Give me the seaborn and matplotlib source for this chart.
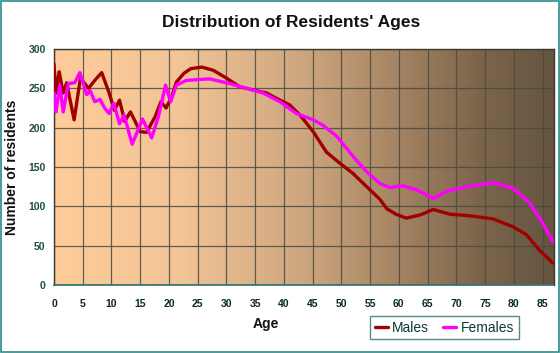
import numpy as np
import pandas as pd
import matplotlib
matplotlib.use("Agg")
import matplotlib.pyplot as plt
from matplotlib.colors import LinearSegmentedColormap
from matplotlib.lines import Line2D
import seaborn as sns

# values
male_age = [0, 0.35, 0.9, 1.6, 2.2, 3.5, 4.6, 6.0, 7.2, 8.3, 9.6, 10.5, 11.4, 12.3, 13.3,
            15.0, 16.1, 17.6, 18.6, 19.5, 20.4, 21.3, 22.6, 23.8, 25.7, 27.7, 30.0,
            32.3, 35.2, 37.0, 39.3, 41.0, 42.8, 45.1, 47.4, 49.7, 52.0, 54.4, 56.7,
            57.9, 59.5, 61.3, 63.7, 66.0, 68.9, 72.3, 76.4, 79.9, 82.2, 84.5, 86.8]
male_val = [281, 244, 271, 244, 257, 210, 263, 250, 261, 270, 244, 222, 235, 208, 220,
            195, 194, 214, 233, 225, 238, 258, 269, 275, 277, 273, 263,
            252, 247, 244, 235, 229, 216, 195, 169, 155, 142, 125, 109,
            97, 90, 85, 89, 96, 90, 88, 84, 74, 64, 44, 28]

female_age = [0, 0.35, 1.0, 1.6, 2.5, 3.6, 4.5, 5.7, 6.3, 7.1, 8.0, 8.8, 9.6, 10.4, 11.4,
              12.2, 13.6, 15.4, 17.0, 18.2, 19.4, 20.3, 21.3, 23.0, 24.8, 27.1, 30.6,
              33.5, 36.4, 39.3, 42.2, 45.1, 46.8, 49.2, 52.1, 54.4, 56.7, 58.4, 60.7,
              63.1, 66.0, 68.3, 71.8, 76.4, 79.9, 82.8, 85.1, 86.8]
female_val = [244, 220, 254, 220, 256, 257, 270, 242, 247, 233, 236, 225, 218, 231, 205,
              216, 179, 211, 187, 215, 254, 233, 254, 260, 261, 262, 256,
              250, 244, 233, 218, 210, 203, 189, 163, 144, 129, 124, 126,
              121, 110, 119, 125, 130, 123, 104, 78, 55]

series = ["Males", "Females"]
colors = {"Males": "#a00000", "Females": "#ff00ff"}
x_ticks = list(range(0, 90, 5))
y_ticks = list(range(0, 301, 50))

df = pd.concat([
    pd.DataFrame({"Age": male_age, "Residents": male_val, "Sex": "Males"}),
    pd.DataFrame({"Age": female_age, "Residents": female_val, "Sex": "Females"}),
])

sns.set_style("white")
plt.rcParams["font.family"] = ["Liberation Sans", "DejaVu Sans"]

W, H = 560, 353
fig = plt.figure(figsize=(W / 100, H / 100), dpi=100)
fig.patch.set_facecolor("white")
# thin teal border round the image
fig.patches.append(plt.Rectangle((0.001, 0.002), 0.997, 0.995, transform=fig.transFigure,
                                 fill=False, edgecolor="#2a8a8a", linewidth=1.2))

L, R, T, B = 54, 554, 49, 285
ax = fig.add_axes([L / W, 1 - B / H, (R - L) / W, (B - T) / H])

# horizontal gradient background
grad = LinearSegmentedColormap.from_list(
    "bg", [(0.0, "#ffcc99"), (0.25, "#f2c496"), (0.5, "#cda67f"),
           (0.65, "#ad8b68"), (0.85, "#7d654c"), (1.0, "#655540")])
ax.imshow(np.linspace(0, 1, 256).reshape(1, -1), cmap=grad, aspect="auto",
          extent=[0, 1, 0, 1], transform=ax.transAxes, zorder=0)

sns.lineplot(data=df, x="Age", y="Residents", hue="Sex", hue_order=series,
             palette=colors, linewidth=2.4, legend=False, sort=False, ax=ax, zorder=3)
for ln in ax.get_lines():
    ln.set_solid_joinstyle("round")
    ln.set_solid_capstyle("round")

ax.set_xlim(0, 87)
ax.set_ylim(0, 300)
ax.set_xticks(x_ticks)
ax.set_xticks(range(0, 88), minor=True)
ax.set_yticks(y_ticks)
ax.grid(True, which="major", color="#4a4a40", linewidth=0.9, alpha=0.85, zorder=1)
for ln in ax.get_xgridlines() + ax.get_ygridlines():
    ln.set_zorder(1)

ax.tick_params(axis="x", which="major", length=5, width=0.8, color="#2a7070",
               labelsize=7.5, labelcolor="#0a2a2a", pad=5)
ax.tick_params(axis="x", which="minor", length=3, width=0.8, color="#2a7070")
ax.tick_params(axis="y", length=5, width=0.8, color="#2a7070",
               labelsize=7.5, labelcolor="#1f4f3a", pad=1)
for lab in ax.get_xticklabels() + ax.get_yticklabels():
    lab.set_fontweight("bold")

for side in ["top", "right", "left"]:
    ax.spines[side].set_color("#3a3a30")
    ax.spines[side].set_linewidth(1.0)
ax.spines["bottom"].set_color("#2a7070")
ax.spines["bottom"].set_linewidth(1.2)

ax.set_xlabel("")
ax.set_ylabel("")
fig.text(291 / W, 1 - 23 / H, "Distribution of Residents' Ages", ha="center", va="center",
         fontsize=12.5, fontweight="bold", color="#111111")
fig.text(266 / W, 1 - 324 / H, "Age", ha="center", va="center",
         fontsize=10, fontweight="bold", color="#111111")
fig.text(12 / W, 1 - 167 / H, "Number of residents", ha="center", va="center",
         rotation=90, fontsize=10, fontweight="bold", color="#111111")

handles = [Line2D([], [], color=colors[s], linewidth=2.4) for s in series]
leg = ax.legend(handles, series, loc="center",
                bbox_to_anchor=((444.5 - L) / (R - L), (B - 327.5) / (B - T)),
                ncol=2, frameon=True, fontsize=10, handlelength=0.9, handletextpad=0.35,
                columnspacing=1.0, borderpad=0.35, fancybox=False)
leg.get_frame().set_edgecolor("#2a7070")
leg.get_frame().set_facecolor("none")
leg.get_frame().set_linewidth(1.0)
for t in leg.get_texts():
    t.set_color("#0a3a3a")

fig.savefig("out.png", dpi=100)
